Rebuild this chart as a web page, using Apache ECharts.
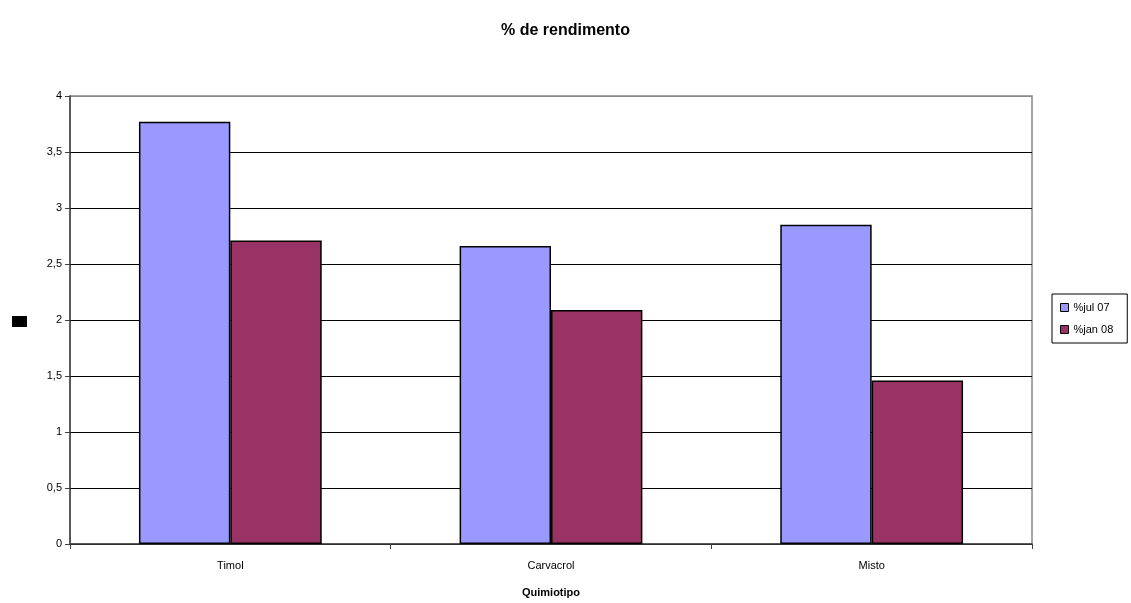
<!DOCTYPE html>
<html>
<head>
<meta charset="utf-8">
<style>
  html, body { margin: 0; padding: 0; background: #fff; }
  #chart { width: 1131px; height: 603px; }
</style>
<script src="https://cdn.jsdelivr.net/npm/echarts@6/dist/echarts.min.js"></script>
</head>
<body>
<div id="chart"></div>
<script>
// Yield (%) per chemotype, two harvests
const categories = ['Timol', 'Carvacrol', 'Misto'];
const jul07 = [3.77, 2.66, 2.85];
const jan08 = [2.71, 2.09, 1.46];
const seriesNames = ['%jul 07', '%jan 08'];
const yTicks = [0, 0.5, 1, 1.5, 2, 2.5, 3, 3.5, 4];

const font = '"Liberation Sans", Arial, sans-serif';
const chart = echarts.init(document.getElementById('chart'));

// top split line (value 4) is drawn grey like the plot frame
const splitColors = yTicks.map((v, i) => i === yTicks.length - 1 ? '#888' : '#000');

chart.setOption({
  animation: false,
  backgroundColor: '#fff',
  title: {
    text: '% de rendimento',
    left: 'center', top: 18,
    textStyle: { fontFamily: font, fontSize: 16, fontWeight: 'bold', color: '#000' }
  },
  legend: {
    orient: 'vertical',
    left: 1052, top: 294,
    width: 78, height: 54,
    padding: [8, 14, 8, 8],
    itemGap: 11,
    itemWidth: 8, itemHeight: 8,
    borderColor: '#000', borderWidth: 1,
    textStyle: { fontFamily: font, fontSize: 11, color: '#000' },
    data: seriesNames.map(n => ({ name: n, icon: 'rect', itemStyle: { borderColor: '#000', borderWidth: 1 } }))
  },
  grid: {
    left: 70, right: 99, top: 96, bottom: 59,
    show: true, borderColor: '#888', borderWidth: 1.5, backgroundColor: '#fff'
  },
  xAxis: {
    type: 'category',
    data: categories,
    name: 'Quimiotipo',
    nameLocation: 'middle',
    nameGap: 43,
    nameTextStyle: { fontFamily: font, fontSize: 11, fontWeight: 'bold', color: '#000' },
    axisLine: { lineStyle: { color: '#404040', width: 1.5 } },
    axisTick: { show: true, length: 5, lineStyle: { color: '#404040' } },
    axisLabel: { fontFamily: font, fontSize: 11, color: '#000', margin: 16 }
  },
  yAxis: {
    type: 'value',
    min: 0, max: 4, interval: 0.5,
    axisLine: { show: true, lineStyle: { color: '#404040', width: 1.5 } },
    axisTick: { show: true, length: 5, lineStyle: { color: '#404040' } },
    axisLabel: {
      fontFamily: font, fontSize: 11, color: '#000', margin: 8,
      formatter: v => String(v).replace('.', ',')
    },
    splitLine: { show: true, lineStyle: { color: splitColors, width: 1 } }
  },
  graphic: [{
    type: 'rect',
    left: 12, top: 316,
    shape: { width: 15, height: 11 },
    style: { fill: '#000' }
  }],
  series: [
    {
      name: seriesNames[0], type: 'bar', data: jul07,
      barGap: '0%', barCategoryGap: '43%',
      itemStyle: { color: '#9999ff', borderColor: '#000', borderWidth: 1.5 }
    },
    {
      name: seriesNames[1], type: 'bar', data: jan08,
      itemStyle: { color: '#993366', borderColor: '#000', borderWidth: 1.5 }
    }
  ]
});
</script>
</body>
</html>
